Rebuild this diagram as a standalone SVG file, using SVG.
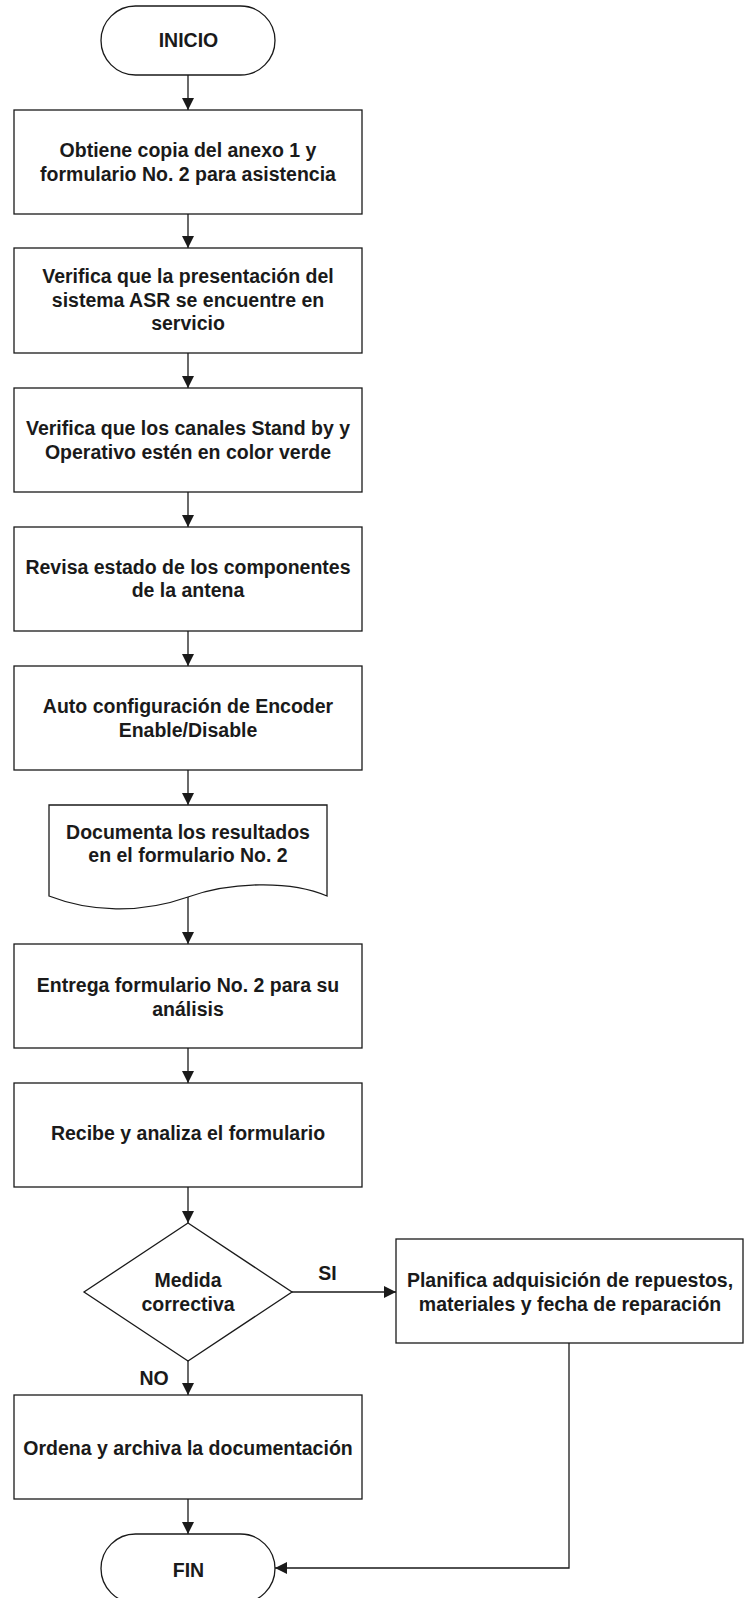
<svg xmlns="http://www.w3.org/2000/svg" width="745" height="1598" viewBox="0 0 745 1598">
<defs>
<style>
.s{fill:#fff;stroke:#1a1a1a;stroke-width:1.3}
.c{fill:none;stroke:#1a1a1a;stroke-width:1.3}
.t{font-family:"Liberation Sans",Arial,sans-serif;font-weight:bold;font-size:19.5px;fill:#1a1a1a;text-anchor:middle}
</style>
<marker id="ah" markerUnits="userSpaceOnUse" markerWidth="12" markerHeight="12" refX="12" refY="6" orient="auto">
<path d="M0,0 L12,6 L0,12 Z" fill="#1a1a1a"/>
</marker>
</defs>
<rect width="745" height="1598" fill="#fff"/>
<g id="connectors">
<line class="c" x1="188" y1="75" x2="188" y2="110" marker-end="url(#ah)"/>
<line class="c" x1="188" y1="214" x2="188" y2="248" marker-end="url(#ah)"/>
<line class="c" x1="188" y1="353" x2="188" y2="388" marker-end="url(#ah)"/>
<line class="c" x1="188" y1="492" x2="188" y2="527" marker-end="url(#ah)"/>
<line class="c" x1="188" y1="631" x2="188" y2="666" marker-end="url(#ah)"/>
<line class="c" x1="188" y1="770" x2="188" y2="805" marker-end="url(#ah)"/>
<line class="c" x1="188" y1="897" x2="188" y2="944" marker-end="url(#ah)"/>
<line class="c" x1="188" y1="1048" x2="188" y2="1083" marker-end="url(#ah)"/>
<line class="c" x1="188" y1="1187" x2="188" y2="1223" marker-end="url(#ah)"/>
<line class="c" x1="188" y1="1361" x2="188" y2="1395" marker-end="url(#ah)"/>
<line class="c" x1="292" y1="1292" x2="396" y2="1292" marker-end="url(#ah)"/>
<line class="c" x1="188" y1="1499" x2="188" y2="1534" marker-end="url(#ah)"/>
<polyline class="c" points="569,1343 569,1568 275,1568" marker-end="url(#ah)"/>
<text class="t" x="327.5" y="1280">SI</text>
<text class="t" x="154" y="1385">NO</text>
</g>
<g id="inicio">
<rect class="s" x="101" y="6" width="174" height="69" rx="34.5" ry="34.5"/>
<text class="t" x="188.5" y="47">INICIO</text>
</g>
<g id="paso1">
<rect class="s" x="14" y="110" width="348" height="104"/>
<text class="t" x="188" y="157">Obtiene copia del anexo 1 y</text>
<text class="t" x="188" y="180.5">formulario No. 2 para asistencia</text>
</g>
<g id="paso2">
<rect class="s" x="14" y="248" width="348" height="105"/>
<text class="t" x="188" y="283">Verifica que la presentación del</text>
<text class="t" x="188" y="306.5">sistema ASR se encuentre en</text>
<text class="t" x="188" y="330">servicio</text>
</g>
<g id="paso3">
<rect class="s" x="14" y="388" width="348" height="104"/>
<text class="t" x="188" y="435">Verifica que los canales Stand by y</text>
<text class="t" x="188" y="458.5">Operativo estén en color verde</text>
</g>
<g id="paso4">
<rect class="s" x="14" y="527" width="348" height="104"/>
<text class="t" x="188" y="573.5">Revisa estado de los componentes</text>
<text class="t" x="188" y="597">de la antena</text>
</g>
<g id="paso5">
<rect class="s" x="14" y="666" width="348" height="104"/>
<text class="t" x="188" y="713">Auto configuración de Encoder</text>
<text class="t" x="188" y="736.5">Enable/Disable</text>
</g>
<g id="documento">
<path class="s" d="M49,805 H327 V896 C290,880 230,882 188,897 C140,914 90,912 49,896 Z"/>
<text class="t" x="188" y="838.5">Documenta los resultados</text>
<text class="t" x="188" y="862">en el formulario No. 2</text>
</g>
<g id="paso6">
<rect class="s" x="14" y="944" width="348" height="104"/>
<text class="t" x="188" y="992">Entrega formulario No. 2 para su</text>
<text class="t" x="188" y="1015.5">análisis</text>
</g>
<g id="paso7">
<rect class="s" x="14" y="1083" width="348" height="104"/>
<text class="t" x="188" y="1140">Recibe y analiza el formulario</text>
</g>
<g id="decision">
<polygon class="s" points="188,1223 292,1292 188,1361 84,1292"/>
<text class="t" x="188" y="1287">Medida</text>
<text class="t" x="188" y="1310.5">correctiva</text>
</g>
<g id="planifica">
<rect class="s" x="396" y="1239" width="347" height="104"/>
<text class="t" x="570" y="1287">Planifica adquisición de repuestos,</text>
<text class="t" x="570" y="1310.5">materiales y fecha de reparación</text>
</g>
<g id="ordena">
<rect class="s" x="14" y="1395" width="348" height="104"/>
<text class="t" x="188" y="1455">Ordena y archiva la documentación</text>
</g>
<g id="fin">
<rect class="s" x="101" y="1534" width="174" height="69" rx="34.5" ry="34.5"/>
<text class="t" x="188.5" y="1577">FIN</text>
</g>
</svg>
